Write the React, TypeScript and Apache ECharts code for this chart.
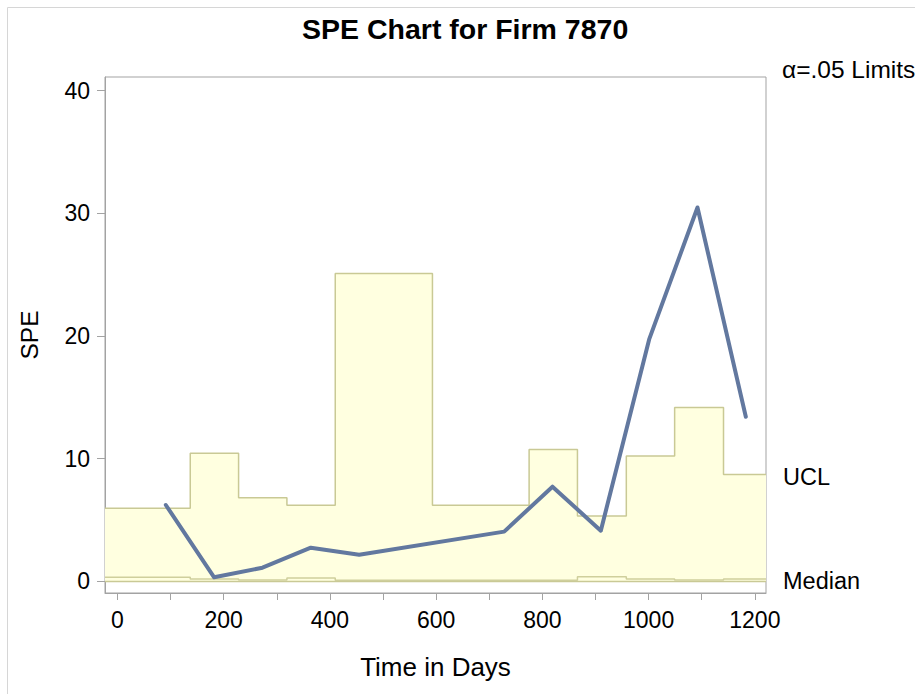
import React, { useEffect, useRef } from "react";
import * as echarts from "echarts";

// SPE observations (time in days, SPE value)
const obsDays = [91, 182, 273, 364, 455, 728, 819, 910, 1001, 1092, 1183];
const speValues = [6.23, 0.34, 1.12, 2.75, 2.18, 4.06, 7.72, 4.14, 19.72, 30.47, 13.42];

// Step limits: each step starts at limitStarts[i] and holds until the next start
const limitStarts = [-23.5, 137, 228, 319, 410, 593, 775, 866, 958, 1049, 1141];
const limitEnd = 1221;
const uclValues = [5.96, 10.44, 6.83, 6.2, 25.1, 6.2, 10.76, 5.33, 10.22, 14.18, 8.72];
const medianValues = [0.34, 0.2, 0.12, 0.28, 0.1, 0.1, 0.1, 0.39, 0.2, 0.12, 0.2];
const lclValues = [0, 0, 0, 0, 0, 0, 0, 0, 0, 0, 0];

// Axis ticks
const xMin = -23.5;
const xMax = 1221;
const yMin = -0.94;
const yMax = 41.1;
const xLabelValues = [0, 200, 400, 600, 800, 1000, 1200];
const xTickValues = [0, 100, 200, 300, 400, 500, 600, 700, 800, 900, 1000, 1100, 1200];
const yTickValues = [0, 10, 20, 30, 40];

const FONT = "'Liberation Sans', Arial, Helvetica, sans-serif";
const AXIS_GRAY = "#a3a3a3";
const BAND_FILL = "#ffffe0";
const BAND_STROKE = "#c9c995";
const LINE_BLUE = "#62789f";

function stepData(values: number[]): [number, number][] {
  const pts: [number, number][] = limitStarts.map((s, i) => [s, values[i]]);
  pts.push([limitEnd, values[values.length - 1]]);
  return pts;
}

export default function App() {
  const ref = useRef<HTMLDivElement>(null);

  useEffect(() => {
    if (!ref.current) return;
    const chart = echarts.init(ref.current, undefined, { renderer: "svg" });
    const speData = obsDays.map((d, i) => [d, speValues[i]]);

    chart.setOption({
      animation: false,
      backgroundColor: "#ffffff",
      textStyle: { fontFamily: FONT },
      title: [
        {
          text: "SPE Chart for Firm 7870",
          left: 302,
          top: 14,
          padding: 0,
          textStyle: { fontFamily: FONT, fontSize: 28.5, fontWeight: "bold", color: "#000" },
        },
        {
          text: "α=.05 Limits",
          left: 782,
          top: 57,
          padding: 0,
          textStyle: { fontFamily: FONT, fontSize: 24.5, fontWeight: "normal", color: "#000" },
        },
      ],
      graphic: [
        {
          type: "rect",
          silent: true,
          shape: { x: 7.5, y: 7.5, width: 1000, height: 1000 },
          style: { fill: "none", stroke: "#d6d6d6", lineWidth: 1 },
        },
      ],
      grid: {
        left: 105,
        right: 149,
        top: 77,
        bottom: 101,
        show: true,
        borderColor: AXIS_GRAY,
        borderWidth: 1,
        containLabel: false,
      },
      xAxis: {
        type: "value",
        min: xMin,
        max: xMax,
        name: "Time in Days",
        nameLocation: "middle",
        nameGap: 61,
        nameTextStyle: { fontFamily: FONT, fontSize: 26, color: "#000" },
        axisLine: { show: true, onZero: false, lineStyle: { color: AXIS_GRAY, width: 1 } },
        axisTick: {
          show: true,
          length: 7,
          customValues: xTickValues,
          lineStyle: { color: AXIS_GRAY, width: 1 },
        },
        axisLabel: {
          customValues: xLabelValues,
          formatter: (v: number) => String(v),
          fontFamily: FONT,
          fontSize: 23,
          color: "#000",
          margin: 15,
        },
        splitLine: { show: false },
      },
      yAxis: {
        type: "value",
        min: yMin,
        max: yMax,
        name: "SPE",
        nameLocation: "middle",
        nameRotate: 90,
        nameGap: 63,
        nameTextStyle: { fontFamily: FONT, fontSize: 24.5, color: "#000" },
        axisLine: { show: true, onZero: false, lineStyle: { color: AXIS_GRAY, width: 1 } },
        axisTick: {
          show: true,
          length: 8,
          customValues: yTickValues,
          lineStyle: { color: AXIS_GRAY, width: 1 },
        },
        axisLabel: {
          customValues: yTickValues,
          formatter: (v: number) => String(v),
          fontFamily: FONT,
          fontSize: 23,
          color: "#000",
          margin: 15,
        },
        splitLine: { show: false },
      },
      series: [
        {
          name: "UCL",
          type: "line",
          step: "end",
          data: stepData(uclValues),
          symbol: "none",
          z: 1,
          lineStyle: { color: BAND_STROKE, width: 1.5 },
          areaStyle: { color: BAND_FILL, opacity: 1, origin: "auto" },
          endLabel: {
            show: true,
            formatter: "UCL",
            distance: 17,
            fontFamily: FONT,
            fontSize: 23.5,
            color: "#000",
            offset: [0, 3],
          },
        },
        {
          name: "LCL",
          type: "line",
          step: "end",
          data: stepData(lclValues),
          symbol: "none",
          z: 2,
          lineStyle: { color: BAND_STROKE, width: 1.5 },
        },
        {
          name: "Median",
          type: "line",
          step: "end",
          data: stepData(medianValues),
          symbol: "none",
          z: 2,
          lineStyle: { color: "#cfcf9c", width: 1.5 },
          endLabel: {
            show: true,
            formatter: "Median",
            distance: 17,
            fontFamily: FONT,
            fontSize: 23.5,
            color: "#000",
            offset: [0, 2],
          },
        },
        {
          name: "SPE",
          type: "line",
          data: speData,
          symbol: "none",
          z: 5,
          lineStyle: { color: LINE_BLUE, width: 4, cap: "round", join: "round" },
        },
      ],
    });

    return () => chart.dispose();
  }, []);

  return (
    <div
      ref={ref}
      style={{ position: "fixed", left: 0, top: 0, width: 915, height: 694, background: "#fff" }}
    />
  );
}
